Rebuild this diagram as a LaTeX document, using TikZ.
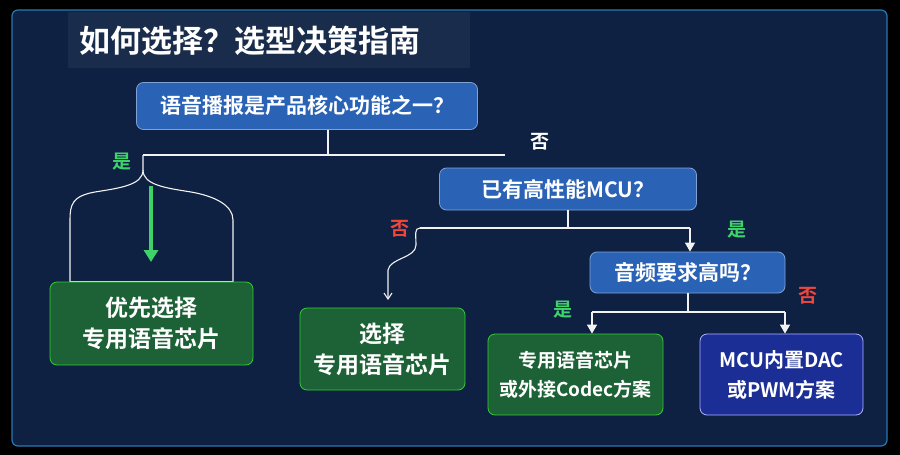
\documentclass[tikz,border=0pt]{standalone}
\usepackage{fontspec}
\setmainfont{Noto Sans CJK SC}[BoldFont={Noto Sans CJK SC Bold}]
\usetikzlibrary{arrows.meta}
\definecolor{bgpanel}{HTML}{0E2142}
\definecolor{qblue}{HTML}{2A62B5}
\definecolor{gbox}{HTML}{1D6236}
\definecolor{dblue}{HTML}{1A2E96}
\definecolor{ygreen}{HTML}{3FD26A}
\definecolor{nred}{HTML}{F0473C}
\begin{document}
\begin{tikzpicture}[x=1pt,y=-1pt,
  qbox/.style={draw=qblue!60!white,line width=0.8pt,fill=qblue,rounded corners=7pt,text=white,font=\bfseries\fontsize{21}{24}\selectfont,align=center,inner sep=0pt},
  gnode/.style={draw=green!60!gray,line width=0.8pt,fill=gbox,rounded corners=7pt,text=white,font=\bfseries\fontsize{23}{31}\selectfont,align=center,inner sep=0pt},
  dnode/.style={draw=blue!30!white,line width=0.8pt,fill=dblue,rounded corners=7pt,text=white,font=\bfseries\fontsize{20}{30}\selectfont,align=center,inner sep=0pt},
  wline/.style={draw=white!90!gray,line width=1.3pt},
  warrow/.style={wline,-{Triangle[width=10pt,length=9pt]}},
  yes/.style={text=ygreen,font=\bfseries\fontsize{19}{19}\selectfont},
  no/.style={text=nred,font=\bfseries\fontsize{19}{19}\selectfont},
  nowhite/.style={text=white,font=\bfseries\fontsize{19}{19}\selectfont}]
\fill[black] (0,0) rectangle (900,455);
\fill[bgpanel,draw={rgb,255:red,40;green,120;blue,180},line width=1.2pt,rounded corners=6pt] (12,10) rectangle (887,446);
\fill[white,opacity=0.05] (68,12) rectangle (470,68);
\node[anchor=west,text=white,font=\bfseries\fontsize{31}{34}\selectfont] (title) at (76,41) {如何选择？选型决策指南};
% Q1
\node[qbox,minimum width=341pt,minimum height=47pt] (q1) at (307,106) {语音播报是产品核心功能之一？};
\coordinate (j1) at (328,155);
\coordinate (l1) at (143,155);
\coordinate (r1) at (505,155);
\draw[wline] (q1.south -| j1) -- (j1);
\draw[wline] (l1) -- (r1);
\node[nowhite] (no1) at (540,142) {否};
\node[yes] (yes1) at (122,162) {是};
% brace
\coordinate (bl) at (70,282);
\coordinate (br) at (233,282);
\draw[wline,line width=1.1pt] (l1) -- (143,170) .. controls (143,185) and (120,188) .. (95,192) .. controls (72,196) and (70,205) .. (70,220) -- (bl);
\draw[wline,line width=1.1pt] (143,170) .. controls (143,185) and (166,188) .. (191,192) .. controls (214,196) and (233,205) .. (233,220) -- (br);
\draw[wline,line width=1.1pt] (bl) -- (br);
% Box A
\node[gnode,minimum width=203pt,minimum height=83pt] (a) at (151.5,323.5) {优先选择\\专用语音芯片};
\coordinate (ga) at (151,186);
\draw[draw=ygreen,line width=3.5pt,-{Triangle[width=14pt,length=12pt]}] (ga) -- (151,262);
% Q2
\node[qbox,minimum width=257pt,minimum height=42pt] (q2) at (568,189) {已有高性能MCU？};
\coordinate (j2) at (568,228);
\coordinate (l2) at (420,228);
\coordinate (r2) at (690,228);
\draw[wline] (q2.south) -- (j2);
\draw[wline] (l2) -- (r2);
\node[no] (no2) at (400,229) {否};
\node[yes] (yes2) at (737,230) {是};
% Box B
\node[gnode,minimum width=165pt,minimum height=82pt] (b) at (382.5,349) {选择\\专用语音芯片};
\draw[wline,line width=1.1pt,-{Straight Barb[width=8pt,length=6pt]}] (l2) .. controls (414,228) and (416,235) .. (416,245) .. controls (416,258) and (390,258) .. (388,270) -- (388,300);
% Q3
\node[qbox,minimum width=195pt,minimum height=41pt] (q3) at (687.5,272.5) {音频要求高吗？};
\draw[warrow] (r2) -- (q3.north -| r2);
\coordinate (j3) at (688,312);
\coordinate (l3) at (592,312);
\coordinate (r3) at (785,312);
\draw[wline] (q3.south -| j3) -- (j3);
\draw[wline] (l3) -- (r3);
\node[yes] (yes3) at (563,310) {是};
\node[no] (no3) at (808,296) {否};
% Box C, D
\node[gnode,minimum width=175pt,minimum height=81pt,font=\bfseries\fontsize{19}{29}\selectfont] (c) at (575.5,374.5) {专用语音芯片\\或外接Codec方案};
\node[dnode,minimum width=163pt,minimum height=81pt] (d) at (781.5,374.5) {MCU内置DAC\\或PWM方案};
\draw[warrow] (l3) -- (c.north -| l3);
\draw[warrow] (r3) -- (d.north -| r3);
\end{tikzpicture}
\end{document}
